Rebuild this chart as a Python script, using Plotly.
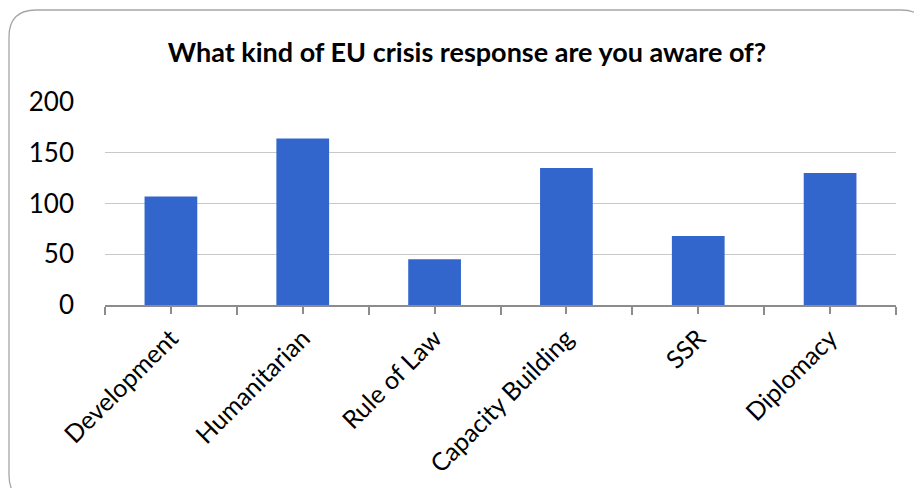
import plotly.graph_objects as go

categories = ["Development", "Humanitarian", "Rule of Law", "Capacity Building", "SSR", "Diplomacy"]
values = [107, 164, 45, 135, 68, 130]
y_ticks = [0, 50, 100, 150, 200]
title_text = "What kind of EU crisis response are you aware of?"

W, H = 914, 488
L, R, T, B = 105, 18, 102, 183
pw, ph = W - L - R, H - T - B

def px(x):
    return (x - L) / pw

def py(y):
    return (H - B - y) / ph

positions = list(range(len(categories)))
boundaries = [p - 0.5 for p in positions] + [positions[-1] + 0.5]

fig = go.Figure()
fig.add_trace(go.Bar(x=positions, y=values, marker=dict(color="#3366CC", line=dict(width=0)),
                     width=0.4, hoverinfo="skip"))

# rounded border (partly outside the visible page on right and bottom)
x0, x1, y0, y1, r = 9, 928, 10, 502, 27
path = (f"M {px(x0 + r)},{py(y0)} L {px(x1 - r)},{py(y0)} "
        f"Q {px(x1)},{py(y0)} {px(x1)},{py(y0 + r)} "
        f"L {px(x1)},{py(y1 - r)} Q {px(x1)},{py(y1)} {px(x1 - r)},{py(y1)} "
        f"L {px(x0 + r)},{py(y1)} Q {px(x0)},{py(y1)} {px(x0)},{py(y1 - r)} "
        f"L {px(x0)},{py(y0 + r)} Q {px(x0)},{py(y0)} {px(x0 + r)},{py(y0)} Z")
fig.add_shape(type="path", path=path, xref="paper", yref="paper",
              line=dict(color="#A6A6A6", width=1.3), layer="below")

fig.update_layout(
    width=W, height=H,
    margin=dict(l=L, r=R, t=T, b=B, autoexpand=False),
    paper_bgcolor="white", plot_bgcolor="white",
    showlegend=False,
    font=dict(family="Lato, Open Sans, sans-serif", color="#000000"),
    title=dict(text=f"<b>{title_text}</b>", x=467 / W, xanchor="center",
               y=1 - 53 / H, yanchor="middle",
               font=dict(size=27, family="Lato, Open Sans, sans-serif", color="#000000")),
    xaxis=dict(range=[-0.5, len(categories) - 0.5], tickmode="array", tickvals=positions,
               ticktext=categories, tickangle=-45, tickfont=dict(size=25),
               showgrid=False, zeroline=False, showline=True, linecolor="#8C8C8C", linewidth=1.5,
               ticks="outside", ticklen=7, tickcolor="#8C8C8C", tickwidth=1.5,
               minor=dict(tickmode="array", tickvals=boundaries, ticks="outside", ticklen=8,
                          tickcolor="#8C8C8C", tickwidth=1.5, showgrid=False),
               fixedrange=True, automargin=False),
    xaxis2=dict(range=[-0.5, len(categories) - 0.5], overlaying="x", anchor="y",
                tickmode="array", tickvals=positions, showticklabels=False,
                showgrid=False, zeroline=False, showline=False,
                ticks="inside", ticklen=6, tickcolor="#8C8C8C", tickwidth=1.5,
                minor=dict(tickmode="array", tickvals=boundaries, ticks="inside", ticklen=8,
                           tickcolor="#8C8C8C", tickwidth=1.5, showgrid=False),
                fixedrange=True),
    yaxis=dict(range=[0, 200], tickmode="array", tickvals=y_ticks, tickfont=dict(size=26),
               showgrid=True, gridcolor="#C8C8C8", gridwidth=1.3, zeroline=False,
               showline=False, ticks="", ticklabelstandoff=30, fixedrange=True, automargin=False),
    bargap=0.6,
)

fig.write_html("out.html", config={"displayModeBar": False},
               post_script="document.body.style.margin='0';document.body.style.padding='0';")
